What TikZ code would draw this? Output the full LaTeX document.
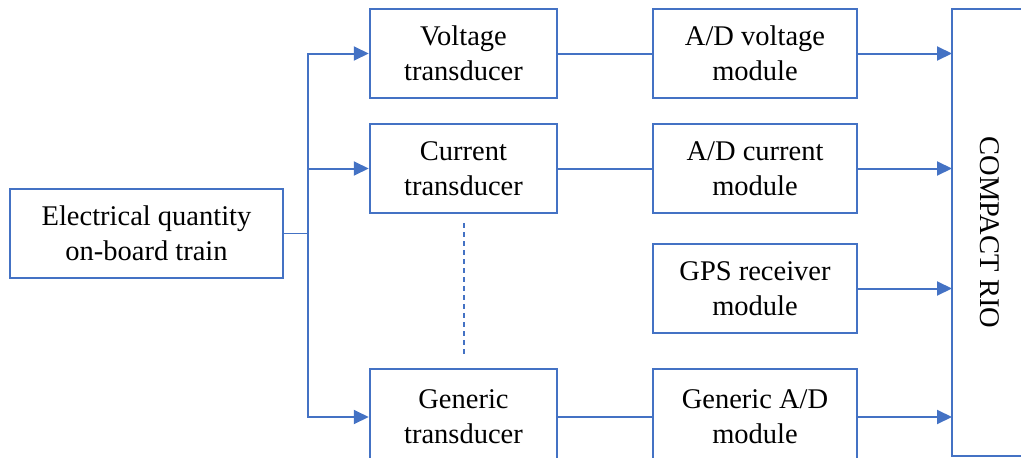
\documentclass[tikz,border=0pt]{standalone}
\usepackage{fontspec}
\setmainfont{Liberation Serif}
\usetikzlibrary{arrows.meta}
\definecolor{blk}{HTML}{4472C4}
\begin{document}
\begin{tikzpicture}[x=1pt,y=-1pt,
  box/.style={draw=blk,line width=2.5pt,fill=white,align=center,inner sep=0pt,
    font=\fontsize{28.5}{35}\selectfont},
  link/.style={draw=blk,line width=2pt},
  feed/.style={link,-{Triangle[length=15pt,width=14pt]}},
  thin/.style={draw=blk,line width=1.2pt}]
\useasboundingbox (0,0) rectangle (1021,458);

% source
\node[box,minimum width=273pt,minimum height=89pt] (src) at (146.5,233.5)
  {Electrical quantity\\on-board train};

% transducers
\node[box,minimum width=187pt,minimum height=89pt] (vt) at (463.5,53.5) {Voltage\\transducer};
\node[box,minimum width=187pt,minimum height=89pt] (ct) at (463.5,168.5) {Current\\transducer};
\node[box,minimum width=187pt,minimum height=96pt] (gt) at (463.5,417) {Generic\\transducer};

% acquisition modules
\node[box,minimum width=204pt,minimum height=89pt] (avm) at (755,53.5) {A/D voltage\\module};
\node[box,minimum width=204pt,minimum height=89pt] (acm) at (755,168.5) {A/D current\\module};
\node[box,minimum width=204pt,minimum height=89pt] (gps) at (755,288.5) {GPS receiver\\module};
\node[box,minimum width=204pt,minimum height=96pt] (gam) at (755,417) {Generic A/D\\module};

% controller
\node[box,rotate=-90,minimum width=447pt,minimum height=76pt] (rio) at (990,232.5) {COMPACT RIO};
\coordinate (rioin) at (952,232.5);

% distribution bus
\coordinate (j) at (308,233.5);
\draw[thin] (src.east) -- (j);
\draw[feed] (j) |- (vt.west);
\draw[feed] (j) |- (ct.west);
\draw[feed] (j) |- (gt.west);

% ellipsis between transducers
\coordinate (d1) at (464,223);
\coordinate (d2) at (464,355);
\draw[thin,dash pattern=on 5pt off 4pt] (d1) -- (d2);

% transducer to module
\draw[link] (vt.east) -- (avm.west);
\draw[link] (ct.east) -- (acm.west);
\draw[link] (gt.east) -- (gam.west);

% modules to controller
\draw[feed] (avm.east) -- (avm.east -| rioin);
\draw[feed] (acm.east) -- (acm.east -| rioin);
\draw[feed] (gps.east) -- (gps.east -| rioin);
\draw[feed] (gam.east) -- (gam.east -| rioin);
\end{tikzpicture}
\end{document}
